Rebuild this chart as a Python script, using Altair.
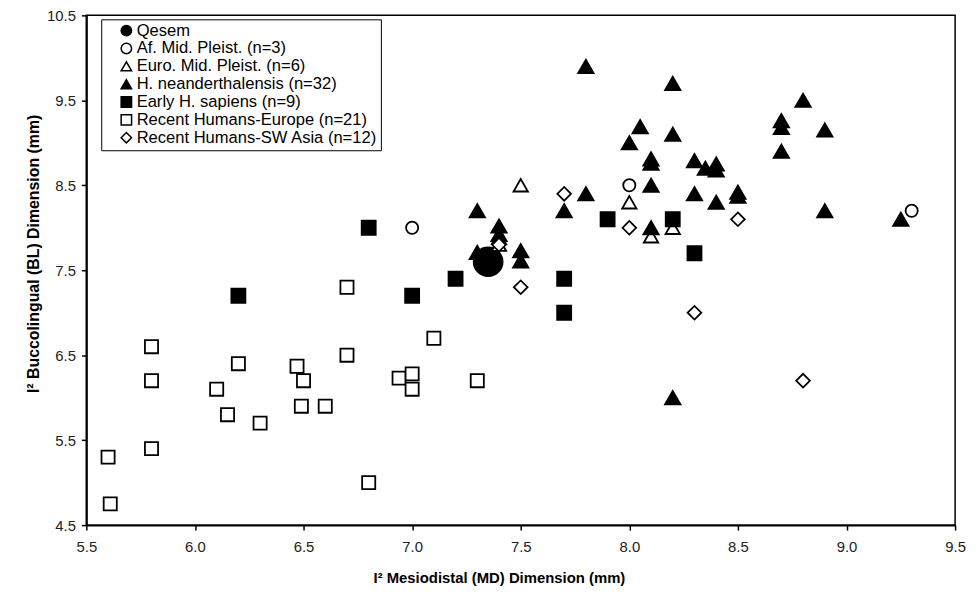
import altair as alt
import pandas as pd

GROUPS = [
    "Qesem",
    "Af. Mid. Pleist. (n=3)",
    "Euro. Mid. Pleist. (n=6)",
    "H. neanderthalensis (n=32)",
    "Early H. sapiens (n=9)",
    "Recent Humans-Europe (n=21)",
    "Recent Humans-SW Asia (n=12)",
]
SHAPES = ["circle", "circle", "triangle-up", "triangle-up", "square", "square", "diamond"]
FILLS = ["black", "white", "white", "black", "black", "white", "white"]
STROKES = ["black"] * 7
SIZES = [850, 150, 210, 240, 200, 175, 190]

qesem_md = [7.35]
qesem_bl = [7.6]

afmp_md = [7.0, 8.0, 9.3]
afmp_bl = [8.0, 8.5, 8.2]

euro_md = [7.5, 8.0, 8.1, 8.2, 7.4, 7.4]
euro_bl = [8.5, 8.3, 7.9, 8.0, 7.8, 7.88]

neand_md = [7.8, 8.2, 8.8, 8.7, 8.7, 8.9, 8.7, 8.05, 8.0, 8.2, 8.1, 8.1, 8.3,
            8.35, 8.4, 8.4, 8.1, 7.8, 7.7, 8.3, 8.4, 8.5, 8.5, 8.9, 9.25, 8.1,
            7.3, 7.4, 7.4, 7.3, 7.5, 7.5, 8.2]
neand_bl = [9.9, 9.7, 9.5, 9.26, 9.18, 9.15, 8.9, 9.19, 9.0, 9.1, 8.81, 8.76, 8.79,
            8.7, 8.75, 8.68, 8.5, 8.4, 8.2, 8.4, 8.3, 8.42, 8.37, 8.2, 8.1, 8.0,
            8.2, 8.02, 7.92, 7.71, 7.73, 7.61, 6.0]

early_md = [6.2, 6.8, 7.0, 7.2, 7.7, 7.7, 7.9, 8.2, 8.3]
early_bl = [7.2, 8.0, 7.2, 7.4, 7.4, 7.0, 8.1, 8.1, 7.7]

reur_md = [5.8, 5.8, 5.6, 5.61, 5.8, 6.1, 6.2, 6.15, 6.3, 6.47, 6.5, 6.49, 6.6,
           6.7, 6.8, 6.7, 7.1, 6.94, 7.0, 7.0, 7.3]
reur_bl = [6.6, 6.2, 5.3, 4.75, 5.4, 6.1, 6.4, 5.8, 5.7, 6.37, 6.2, 5.9, 5.9,
           6.5, 5.0, 7.3, 6.7, 6.23, 6.28, 6.1, 6.2]

swa_md = [7.7, 8.0, 7.5, 8.3, 8.5, 8.8, 7.4]
swa_bl = [8.4, 8.0, 7.3, 7.0, 8.1, 6.2, 7.8]

X_TICKS = [5.5, 6.0, 6.5, 7.0, 7.5, 8.0, 8.5, 9.0, 9.5]
Y_TICKS = [4.5, 5.5, 6.5, 7.5, 8.5, 9.5, 10.5]

series = [
    (qesem_md, qesem_bl), (afmp_md, afmp_bl), (euro_md, euro_bl),
    (neand_md, neand_bl), (early_md, early_bl), (reur_md, reur_bl), (swa_md, swa_bl),
]
rows = []
for gi, (mds, bls) in enumerate(series):
    for md, bl in zip(mds, bls):
        rows.append({"group": GROUPS[gi], "order": gi, "sz": SIZES[gi], "md": md, "bl": bl})
df = pd.DataFrame(rows)

FONT = "Liberation Sans"
NBSP = "\u00a0" * 4

legend = alt.Legend(
    title=None, orient="none", legendX=15, legendY=4,
    strokeColor="black", padding=3, symbolSize=110, symbolStrokeWidth=1.5,
    labelFontSize=16.7, labelFont=FONT, labelLimit=500,
    labelColor="black", rowPadding=0, labelOffset=2, symbolOffset=14,
    labelExpr="datum.label + '" + NBSP + "'",
)

chart = alt.Chart(df).mark_point(filled=True, strokeWidth=1.8, opacity=1).encode(
    x=alt.X("md:Q", scale=alt.Scale(domain=[5.5, 9.5], nice=False, zero=False),
            axis=alt.Axis(values=X_TICKS, format=".1f", labelPadding=10,
                          titlePadding=16, titleX=416, titleFontSize=15,
                          title="I² Mesiodistal (MD) Dimension (mm)")),
    y=alt.Y("bl:Q", scale=alt.Scale(domain=[4.5, 10.5], nice=False, zero=False),
            axis=alt.Axis(values=Y_TICKS, format=".1f", labelPadding=6,
                          title="I² Buccolingual (BL) Dimension (mm)",
                          titleX=-45, titleY=240)),
    shape=alt.Shape("group:N", scale=alt.Scale(domain=GROUPS, range=SHAPES), legend=legend),
    fill=alt.Fill("group:N", scale=alt.Scale(domain=GROUPS, range=FILLS), legend=legend),
    stroke=alt.Stroke("group:N", scale=alt.Scale(domain=GROUPS, range=STROKES), legend=legend),
    size=alt.Size("sz:Q", scale=None, legend=None),
    order=alt.Order("order:Q"),
).properties(
    width=876, height=514,
    autosize=alt.AutoSizeParams(type="none"),
    padding={"left": 79, "top": 5, "right": 13, "bottom": 64},
).configure_view(
    stroke="black", strokeWidth=1.5
).configure_axis(
    grid=False, domainColor="black", domainWidth=2, tickColor="black", tickWidth=1.5,
    tickSize=5, labelFont=FONT, labelFontSize=15, labelColor="#222",
    titleFont=FONT, titleFontSize=16, titleFontWeight="bold", titleColor="black",
    labelFlush=False, labelOverlap=False,
)

chart.save("out.html", embed_options={"renderer": "svg", "actions": False})
